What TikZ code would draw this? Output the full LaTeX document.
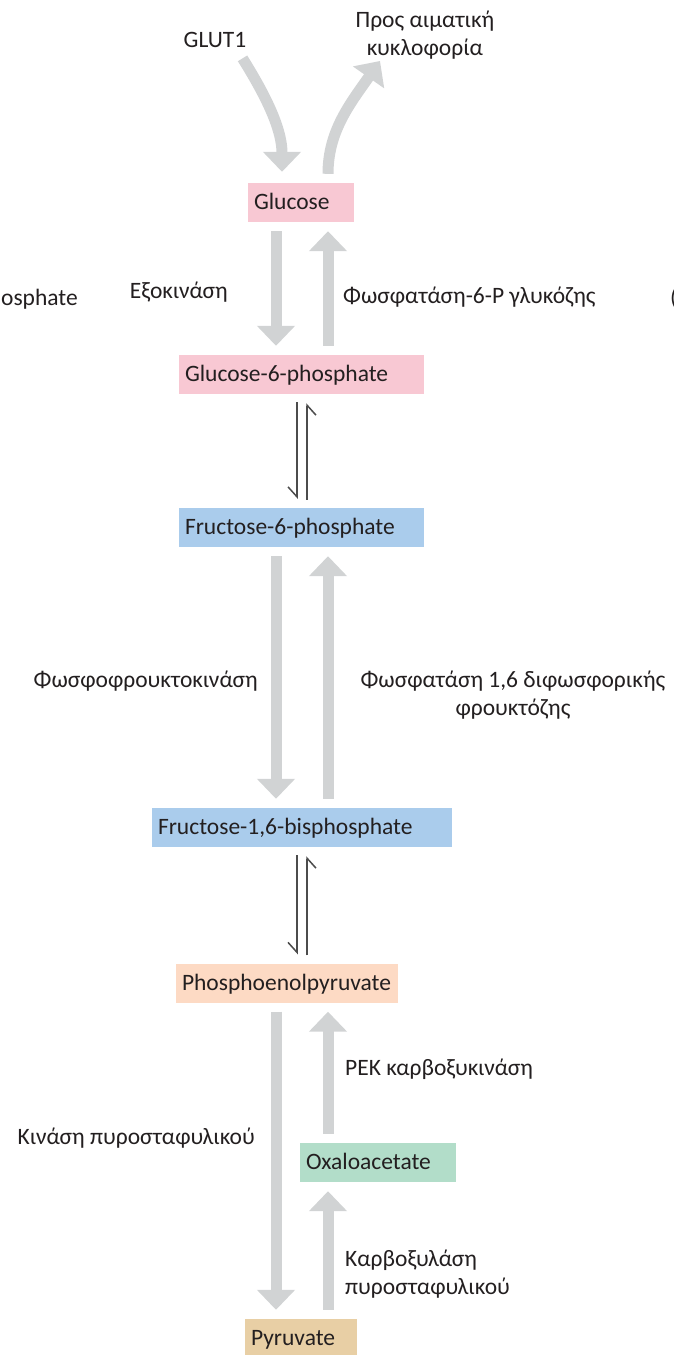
\documentclass[tikz,border=0pt]{standalone}
\usepackage{fontspec}
\setmainfont{Carlito}
\usetikzlibrary{arrows.meta, positioning}
\definecolor{arrowgray}{HTML}{D1D3D4}
\definecolor{txtgray}{HTML}{231F20}
\definecolor{glcpink}{HTML}{F8C8D3}
\definecolor{frublue}{HTML}{AACCEC}
\definecolor{peppeach}{HTML}{FDDAC4}
\definecolor{oaagreen}{HTML}{B2DDC9}
\definecolor{pyrtan}{HTML}{E8CFA5}

\begin{document}
\begin{tikzpicture}[x=1pt, y=-1pt,
    every node/.style={text=txtgray, font=\fontsize{23.5}{28}\selectfont},
    box/.style={inner xsep=6pt, inner ysep=0pt, minimum height=39pt,
        text height=19pt, text depth=5pt, align=left},
    lbl/.style={inner sep=0pt},
    bigarrow/.style={draw=arrowgray, line width=11pt,
        -{Triangle[width=37pt, length=20pt]}, shorten <=9pt, shorten >=9pt},
    harp/.style={draw=black!70, line width=1.5pt,
        -{Straight Barb[right, length=10pt, width=18pt]}, shorten <=8pt, shorten >=9pt}]
    \useasboundingbox (0,0) rectangle (673,1355);
    \coordinate (dn) at (276,0);
    \coordinate (up) at (328,0);
    \coordinate (hl) at (297,0);
    \coordinate (hr) at (307,0);

    % metabolites
    \node[box, fill=glcpink, text width=94pt] (glc) at (301,202.5) {Glucose};
    \node[box, fill=glcpink, text width=233pt] (g6p) at (301.5,374.5) {Glucose-6-phosphate};
    \node[box, fill=frublue, text width=233pt] (f6p) at (301.5,527.5) {Fructose-6-phosphate};
    \node[box, fill=frublue, text width=288pt] (fbp) at (302,827.5) {Fructose-1,6-bisphosphate};
    \node[box, fill=peppeach, text width=210pt] (pep) at (287,983) {Phosphoenolpyruvate};
    \node[box, fill=oaagreen, text width=144pt] (oaa) at (378,1162.5) {Oxaloacetate};
    \node[box, fill=pyrtan, text width=100pt] (pyr) at (301,1338.5) {Pyruvate};

    % labels
    \node[lbl, anchor=base] (glut) at (215,47) {GLUT1};
    \node[lbl, anchor=base, align=center] (blood) at (425,55) {Προς αιματική\\κυκλοφορία};
    \node[lbl, anchor=base east] (hexo) at (228,298) {Εξοκινάση};
    \node[lbl, anchor=base west] (g6pase) at (343,303) {Φωσφατάση-6-P γλυκόζης};
    \node[lbl, anchor=base east] (cutl) at (78,305) {Glucose-6-phosphate};
    \node[lbl, anchor=base west] (cutr) at (670,305) {(};
    \node[lbl, anchor=base east] (pfk) at (258,687) {Φωσφοφρουκτοκινάση};
    \node[lbl, anchor=base, align=center] (fbpase) at (513,715) {Φωσφατάση 1,6 διφωσφορικής\\φρουκτόζης};
    \node[lbl, anchor=base west] (pepck) at (345,1075) {PEK καρβοξυκινάση};
    \node[lbl, anchor=base east] (pk) at (255,1144) {Κινάση πυροσταφυλικού};
    \node[lbl, anchor=base west, align=left] (pc) at (345,1294) {Καρβοξυλάση\\πυροσταφυλικού};

    % transport
    \draw[bigarrow, shorten <=0pt, shorten >=11pt] ([xshift=-4pt, yshift=-11pt]glut.south east)
        to[out=-58, in=90] ([xshift=-19pt]glc.north);
    \draw[bigarrow, shorten >=0pt] ([xshift=27pt]glc.north)
        to[out=90, in=235] ([xshift=-45pt, yshift=-2pt]blood.south);

    % reactions
    \draw[bigarrow] (glc.south -| dn) -- (g6p.north -| dn);
    \draw[bigarrow] (g6p.north -| up) -- (glc.south -| up);
    \draw[harp] (g6p.south -| hl) -- (f6p.north -| hl);
    \draw[harp] (f6p.north -| hr) -- (g6p.south -| hr);
    \draw[bigarrow] (f6p.south -| dn) -- (fbp.north -| dn);
    \draw[bigarrow] (fbp.north -| up) -- (f6p.south -| up);
    \draw[harp] (fbp.south -| hl) -- (pep.north -| hl);
    \draw[harp] (pep.north -| hr) -- (fbp.south -| hr);
    \draw[bigarrow] (pep.south -| dn) -- (pyr.north -| dn);
    \draw[bigarrow] (oaa.north -| up) -- (pep.south -| up);
    \draw[bigarrow] (pyr.north -| up) -- (oaa.south -| up);
\end{tikzpicture}
\end{document}
